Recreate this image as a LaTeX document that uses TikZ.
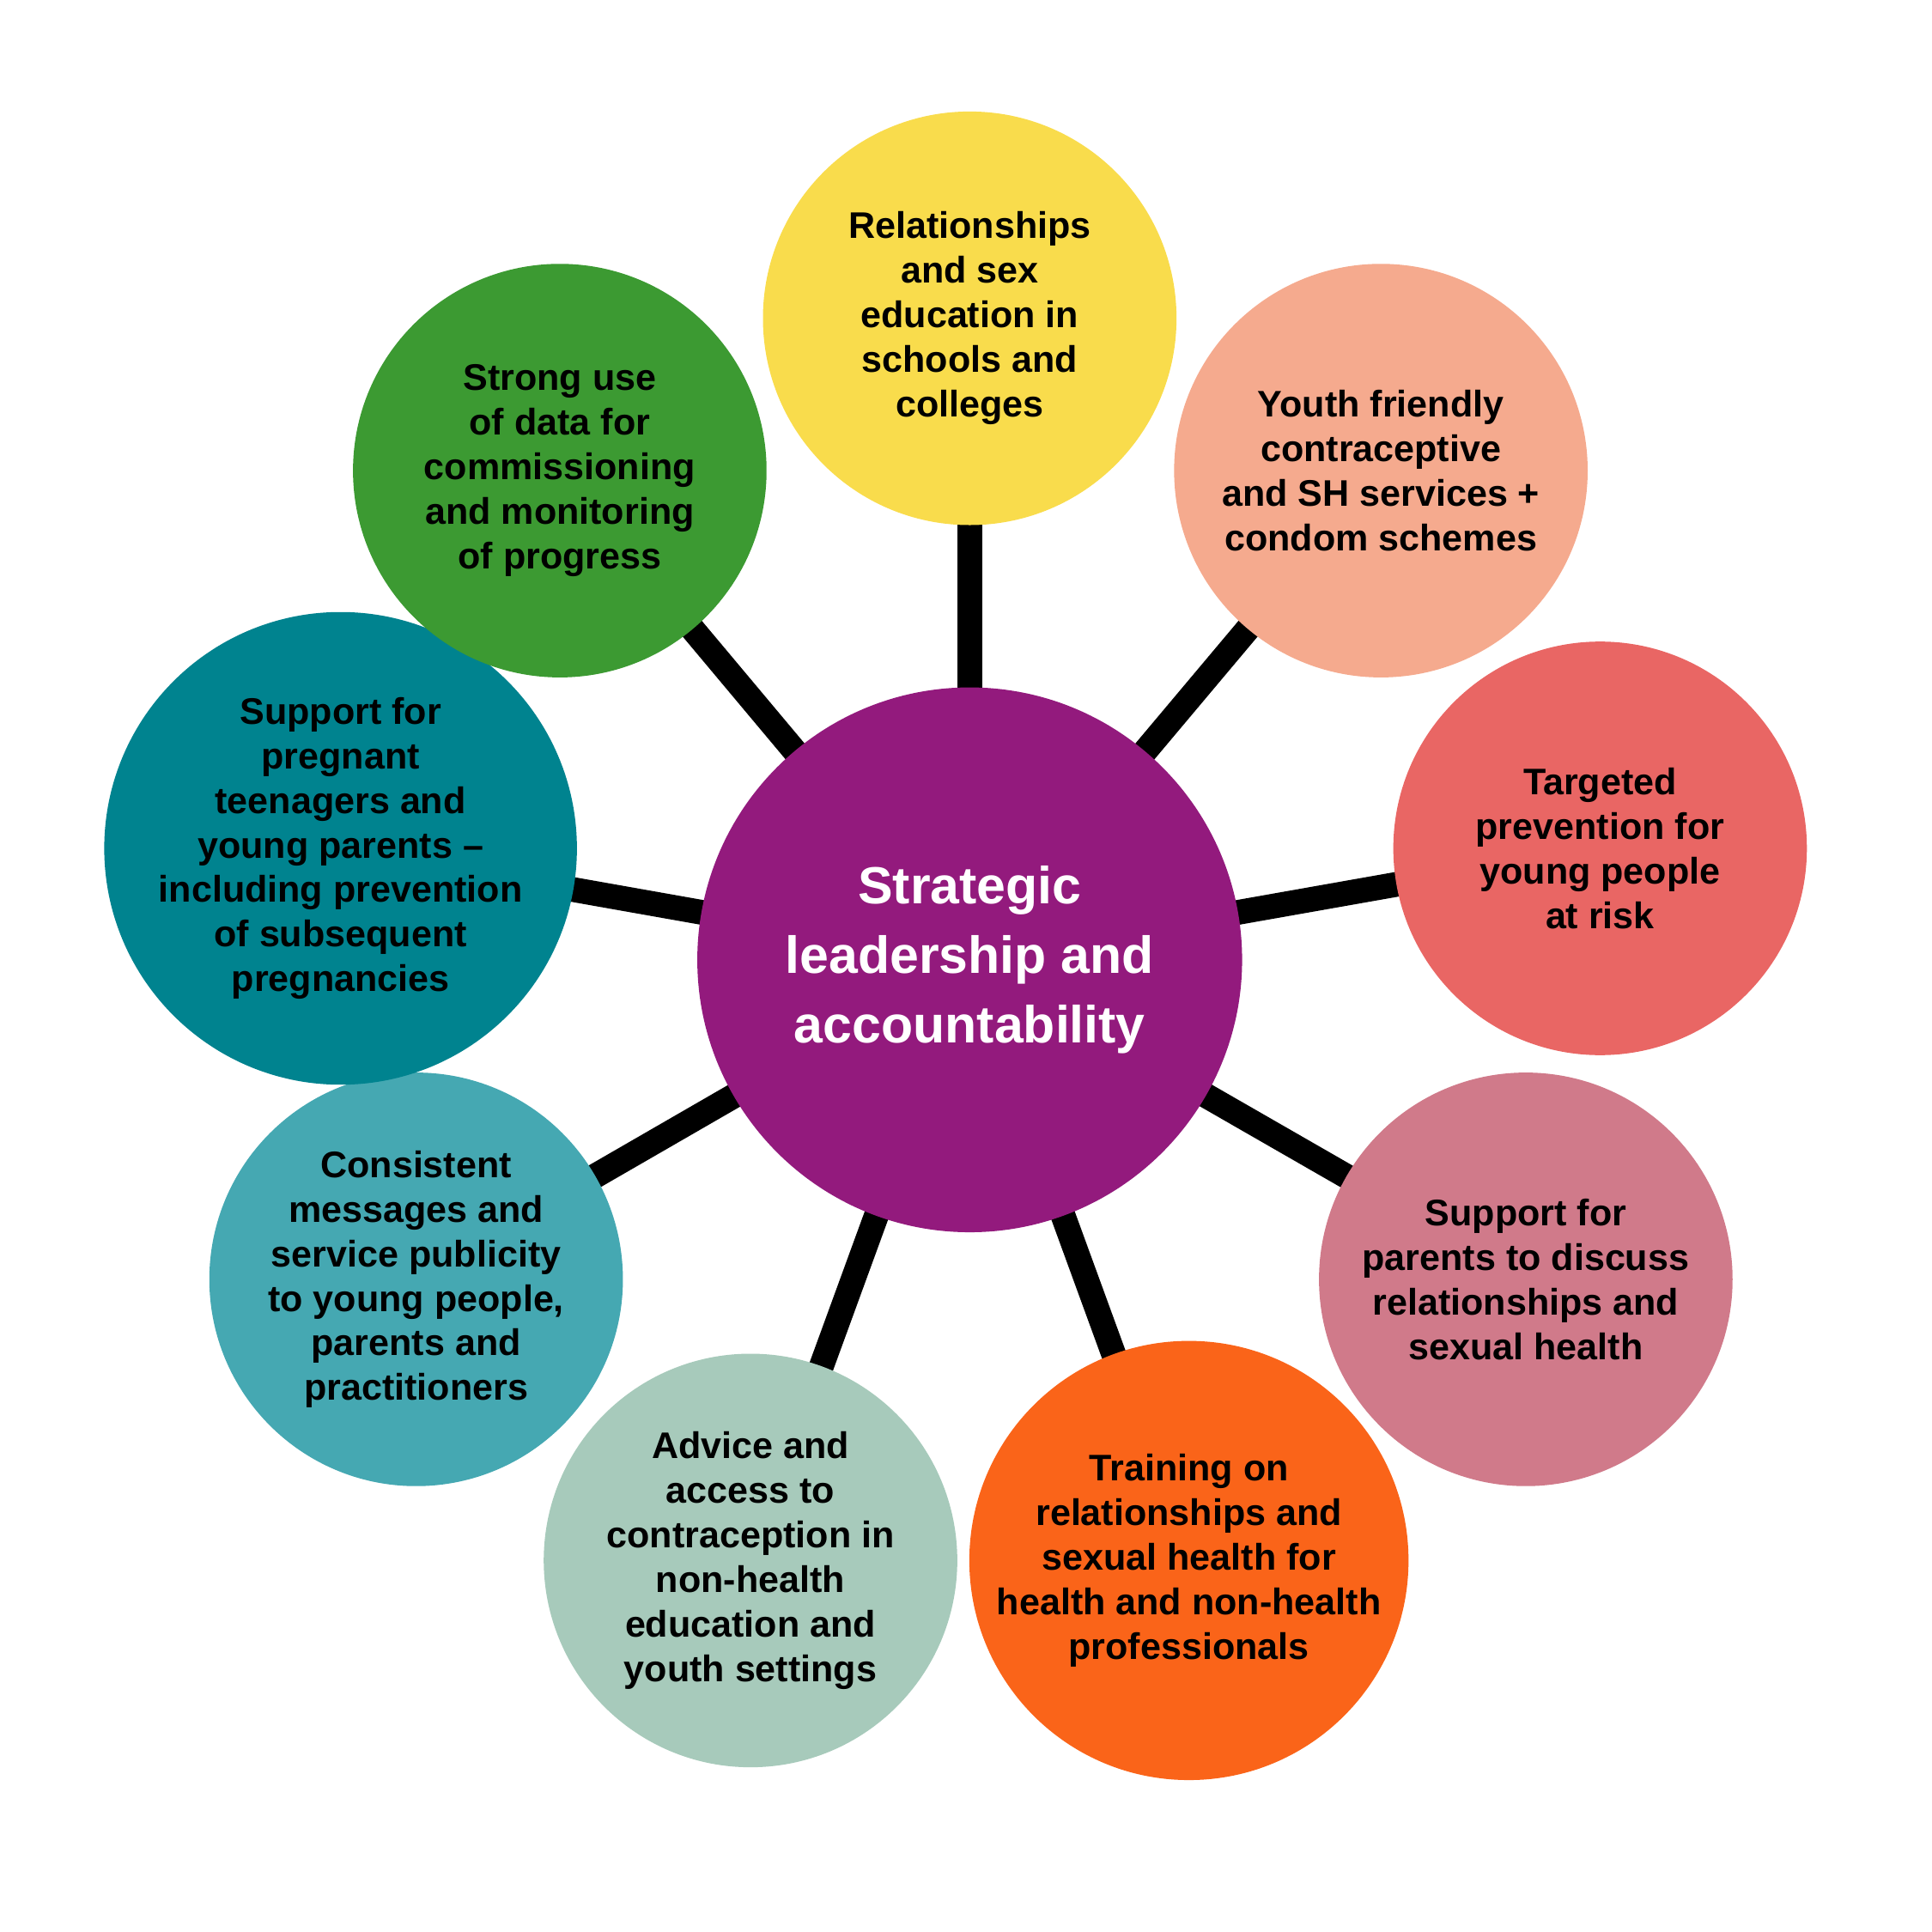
\documentclass[tikz,border=0pt]{standalone}
\usepackage{fontspec}
\setmainfont{Liberation Sans}
\definecolor{cY}{HTML}{F9DC4C}
\definecolor{cP}{HTML}{F5AA8E}
\definecolor{cR}{HTML}{E96664}
\definecolor{cK}{HTML}{D07A8A}
\definecolor{cO}{HTML}{FA6419}
\definecolor{cS}{HTML}{A7CABB}
\definecolor{cL}{HTML}{45A8B2}
\definecolor{cT}{HTML}{00838F}
\definecolor{cG}{HTML}{3C9A32}
\definecolor{cM}{HTML}{931A7D}
\begin{document}
\begin{tikzpicture}[x=0.02cm,y=-0.02cm,
  leaf/.style={circle,minimum size=6.68cm,inner sep=0pt,align=center,font=\bfseries\fontsize{17}{20.5}\selectfont},
  hub/.style={circle,minimum size=8.8cm,inner sep=0pt,fill=cM,text=white,align=center,font=\bfseries\fontsize{24}{32}\selectfont},
  link/.style={line width=0.4cm}]
\useasboundingbox (0,0) rectangle (1560,1560);
\coordinate (c) at (783,775);
\coordinate (y) at (783,257);
\coordinate (p) at (1115,380);
\coordinate (r) at (1292,685);
\coordinate (k) at (1232,1033);
\coordinate (o) at (960,1260);
\coordinate (s) at (606,1260);
\coordinate (l) at (336,1033);
\coordinate (t) at (275,685);
\coordinate (g) at (452,380);
\foreach \n in {y,p,r,k,o,s,l,t,g} \draw[link] (c) -- (\n);
\node[hub] (hubn) at (c) {Strategic\\leadership and\\accountability};
\node[leaf,fill=cY] (ny) at (y) {Relationships\\and sex\\education in\\schools and\\colleges};
\node[leaf,fill=cP] (np) at (p) {Youth friendly\\contraceptive\\and SH services +\\condom schemes};
\node[leaf,fill=cR] (nr) at (r) {Targeted\\prevention for\\young people\\at risk};
\node[leaf,fill=cK] (nk) at (k) {Support for\\parents to discuss\\relationships and\\sexual health};
\node[leaf,fill=cO] (no) at (o) {Training on\\relationships and\\sexual health for\\health and non-health\\professionals};
\node[leaf,fill=cS] (ns) at (s) {Advice and\\access to\\contraception in\\non-health\\education and\\youth settings};
\node[leaf,fill=cL] (nl) at (l) {Consistent\\messages and\\service publicity\\to young people,\\parents and\\practitioners};
\node[leaf,fill=cT] (nt) at (t) {Support for\\pregnant\\teenagers and\\young parents –\\including prevention\\of subsequent\\pregnancies};
\node[leaf,fill=cG] (ng) at (g) {Strong use\\of data for\\commissioning\\and monitoring\\of progress};
\end{tikzpicture}
\end{document}
